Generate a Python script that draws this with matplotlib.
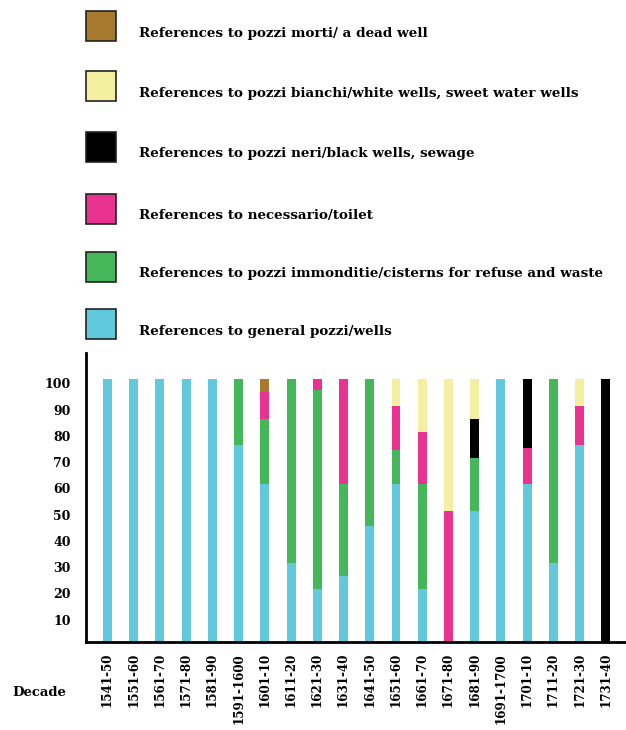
import matplotlib
matplotlib.use("Agg")
import matplotlib.pyplot as plt
import matplotlib.transforms as mtransforms
from matplotlib.patches import Rectangle
import numpy as np

decades = ['1541-50', '1551-60', '1561-70', '1571-80', '1581-90', '1591-1600',
           '1601-10', '1611-20', '1621-30', '1631-40', '1641-50', '1651-60',
           '1661-70', '1671-80', '1681-90', '1691-1700', '1701-10', '1711-20',
           '1721-30', '1731-40']
general    = [100, 100, 100, 100, 100, 75, 60, 30, 20, 25, 44, 60, 20, 0, 50, 100, 60, 30, 75, 0]
immonditie = [0, 0, 0, 0, 0, 25, 25, 70, 76, 35, 56, 13, 40, 0, 20, 0, 0, 70, 0, 0]
necessario = [0, 0, 0, 0, 0, 0, 10, 0, 4, 40, 0, 17, 20, 50, 0, 0, 14, 0, 15, 0]
neri       = [0, 0, 0, 0, 0, 0, 0, 0, 0, 0, 0, 0, 0, 0, 15, 0, 26, 0, 0, 100]
bianchi    = [0, 0, 0, 0, 0, 0, 0, 0, 0, 0, 0, 10, 20, 50, 15, 0, 0, 0, 10, 0]
morti      = [0, 0, 0, 0, 0, 0, 5, 0, 0, 0, 0, 0, 0, 0, 0, 0, 0, 0, 0, 0]

series = [general, immonditie, necessario, neri, bianchi, morti]
colors = ['#62C8DC', '#46B65A', '#EA3291', '#000000', '#F3F0A2', '#A77A2D']
labels = ['References to general pozzi/wells',
          'References to pozzi immonditie/cisterns for refuse and waste',
          'References to necessario/toilet',
          'References to pozzi neri/black wells, sewage',
          'References to pozzi bianchi/white wells, sweet water wells',
          'References to pozzi morti/ a dead well']
yticks = [10, 20, 30, 40, 50, 60, 70, 80, 90, 100]

font = 'DejaVu Serif'
W, H = 626, 730
fig = plt.figure(figsize=(W / 100, H / 100), dpi=100)
ax = fig.add_axes([86 / W, 88 / H, (W - 86) / W, 289 / H])

x = np.arange(len(decades))
bottom = np.zeros(len(decades))
for vals, c in zip(series, colors):
    v = np.array(vals, dtype=float)
    ax.bar(x, v, bottom=bottom, width=0.34, color=c, linewidth=0)
    bottom += v

ax.set_xlim(-0.82, 19.77)
ax.set_ylim(0, 110)
for s in ['top', 'right']:
    ax.spines[s].set_visible(False)
ax.spines['left'].set_linewidth(2)
ax.spines['bottom'].set_linewidth(2)

ax.set_yticks(yticks)
ax.set_yticklabels([str(t) for t in yticks], fontfamily=font, fontweight='bold', fontsize=9)
ax.tick_params(axis='y', length=0, pad=11)
off = mtransforms.ScaledTranslation(0, -4 / 100, fig.dpi_scale_trans)
for lab in ax.get_yticklabels():
    lab.set_transform(lab.get_transform() + off)

ax.set_xticks(x)
ax.set_xticklabels(decades, rotation=90, fontfamily=font, fontweight='bold', fontsize=8.6)
ax.tick_params(axis='x', length=0, pad=8)

fig.text(12 / W, 1 - 693 / H, 'Decade', fontfamily=font, fontweight='bold',
         fontsize=9.5, ha='left', va='center')

# legend (top to bottom)
sq_tops = [11, 71, 132, 194, 252, 309]
order = [5, 4, 3, 2, 1, 0]
for top, idx in zip(sq_tops, order):
    rect = Rectangle((86 / W, 1 - (top + 30) / H), 30 / W, 30 / H,
                     transform=fig.transFigure, facecolor=colors[idx],
                     edgecolor='#222222', linewidth=1.2)
    fig.add_artist(rect)
    fig.text(139 / W, 1 - (top + 22) / H, labels[idx], fontfamily=font,
             fontweight='bold', fontsize=9.7, ha='left', va='center')

fig.savefig('out.png', dpi=100)
